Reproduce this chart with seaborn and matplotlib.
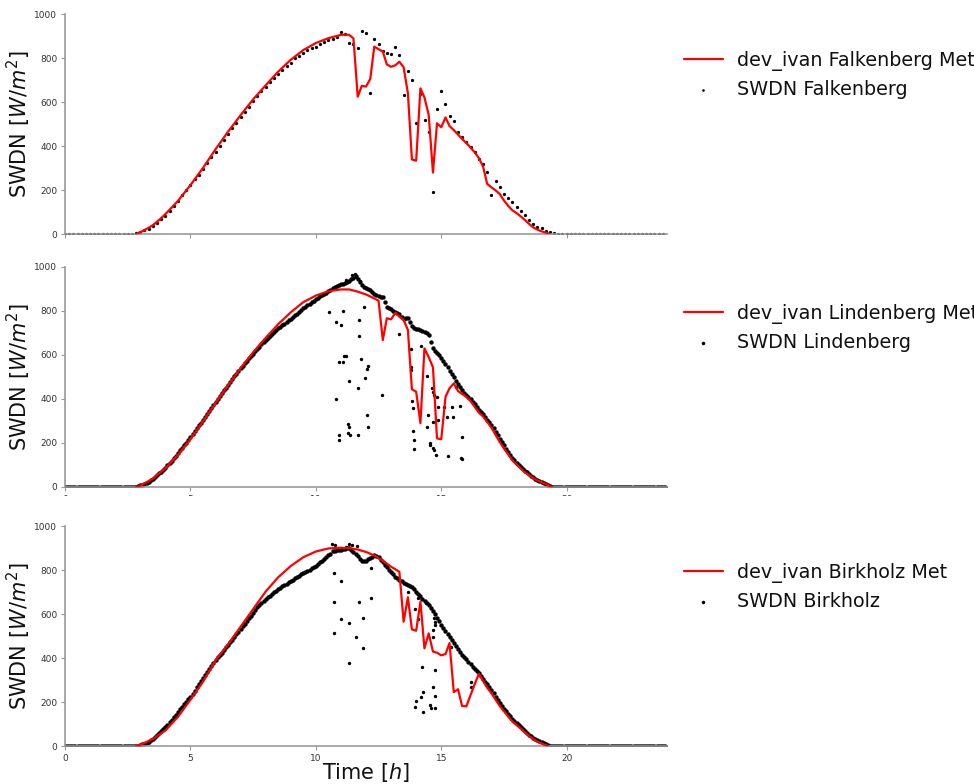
import numpy as np
import matplotlib
matplotlib.use("Agg")
import matplotlib.pyplot as plt
import seaborn as sns
from matplotlib.patches import Rectangle

sns.set_style("ticks")
plt.rcParams["font.family"] = ["DejaVu Sans"]
plt.rcParams["text.color"] = "#111111"
plt.rcParams["axes.labelcolor"] = "#111111"

# ---------------- data ----------------
# time grids [h]
t10 = np.arange(144) / 6.0      # 10-minute observations (Falkenberg)
t5 = np.arange(288) / 12.0      # 5-minute observations (Lindenberg, Birkholz)

# Falkenberg observations, 10-min values, one row per hour
fb_obs = [
    0, 0, 0, 0, 0, 0,
    0, 0, 0, 0, 0, 0,
    0, 0, 0, 0, 0, 3,
    10, 16, 22, 36, 51, 66,
    82, 103, 126, 152, 177, 200,
    224, 250, 270, 294, 321, 348,
    374, 401, 428, 455, 480, 506,
    533, 555, 578, 604, 627, 648,
    668, 690, 710, 728, 746, 762,
    777, 798, 811, 825, 836, 845,
    852, 862, 871, 880, 885, 897,
    917, 909, 867, 862, 847, 924,
    915, 640, 886, 864, 830, 821,
    818, 848, 815, 632, 741, 700,
    503, 636, 518, 462, 192, 570,
    651, 589, 538, 515, 465, 442,
    418, 397, 371, 341, 318, 283,
    177, 242, 215, 182, 162, 147,
    124, 106, 86, 64, 45, 33,
    26, 14, 8, 4, 0, 0,
    0, 0, 0, 0, 0, 0,
    0, 0, 0, 0, 0, 0,
    0, 0, 0, 0, 0, 0,
    0, 0, 0, 0, 0, 0,
]

fb_model_t = [2.83, 3.0, 3.17, 3.33, 3.5, 3.67, 3.83, 4.0, 4.5, 5.0, 5.5, 6.0, 6.5,
              7.0, 7.5, 8.0, 8.5, 9.0, 9.5, 10.0, 10.5, 10.83, 11.0, 11.17,
              11.33, 11.5, 11.67, 11.83, 12.0, 12.17, 12.33, 12.5, 12.67, 12.83,
              13.0, 13.17, 13.33, 13.5, 13.67, 13.83, 14.0, 14.17, 14.33, 14.5,
              14.67, 14.83, 15.0, 15.17, 15.33, 15.5, 15.67, 15.83, 16.0, 16.17,
              16.33, 16.5, 16.67, 16.83, 17.0, 17.17, 17.33, 17.5, 17.67, 17.83,
              18.0, 18.17, 18.33, 18.5, 18.67, 18.83, 19.0, 19.17, 19.33]
fb_model = [0, 8, 18, 28, 40, 56, 72, 90, 150, 222, 300, 385, 465,
            540, 612, 676, 738, 792, 836, 868, 890, 900, 905, 906,
            905, 889, 624, 673, 670, 705, 852, 840, 829, 771,
            760, 767, 783, 758, 640, 339, 333, 662, 621, 541,
            279, 503, 485, 530, 491, 472, 452, 432, 414, 392,
            372, 345, 306, 228, 212, 198, 182, 152, 128, 108,
            95, 80, 64, 46, 30, 20, 12, 6, 0]

# Lindenberg observations, 5-min values from 02:30 to 19:30 (zero at night)
lb_obs_day = [
    0, 0, 0, 0, 1, 3,
    8, 11, 15, 19, 24, 31, 38, 46, 54, 62, 70, 79,
    88, 98, 108, 119, 130, 142, 154, 166, 178, 190, 202, 215,
    228, 241, 254, 267, 280, 293, 306, 320, 333, 346, 360, 374,
    388, 401, 414, 427, 440, 452, 465, 478, 490, 503, 515, 528,
    540, 551, 562, 574, 585, 596, 606, 617, 628, 638, 648, 658,
    668, 677, 686, 695, 704, 712, 721, 728, 736, 743, 750, 758,
    765, 772, 780, 788, 796, 804, 812, 819, 826, 833, 840, 847,
    853, 860, 866, 872, 878, 884, 890, 897, 904, 909, 914, 918,
    922, 925, 928, 932, 935, 945, 950, 958, 945, 930, 918, 910,
    905, 900, 895, 885, 878, 872, 868, 865, 862, 840, 820, 814,
    808, 800, 795, 790, 785, 772, 762, 770, 768, 750, 730, 725,
    720, 716, 712, 708, 705, 700, 690, 660, 630, 620, 608, 598,
    588, 574, 560, 544, 528, 513, 498, 483, 468, 454, 440, 429,
    418, 408, 398, 387, 376, 364, 352, 341, 330, 318, 306, 294,
    282, 267, 252, 236, 220, 205, 190, 175, 160, 146, 132, 121,
    110, 101, 92, 83, 74, 66, 58, 51, 44, 38, 32, 27,
    22, 17, 12, 8, 4, 2, 0,
]
lb_cloud_t = [10.51, 11.07, 10.81, 11.0, 11.71, 11.71, 11.91, 11.11, 11.2, 10.94,
              11.07, 11.82, 12.07, 12.02, 11.95, 11.34, 11.68, 10.82, 12.65, 12.02,
              11.27, 11.31, 12.08, 10.94, 10.94, 11.27, 11.35, 11.68, 13.31, 13.8,
              13.8, 13.8, 13.84, 13.87, 13.88, 13.93, 13.9, 14.44, 14.44, 14.47,
              14.55, 14.57, 14.66, 14.68, 14.71, 14.63, 14.68, 14.71, 14.84, 14.87,
              14.87, 14.81, 15.12, 15.24, 15.42, 15.46, 15.49, 15.58, 15.74, 15.84,
              15.28, 15.77, 15.81, 11.45, 11.55, 11.62, 11.4, 11.2, 11.75, 14.2]
lb_cloud_v = [794, 800, 748, 736, 759, 686, 820, 597, 597, 570,
              570, 583, 550, 536, 494, 482, 451, 400, 417, 326,
              286, 274, 271, 236, 212, 244, 238, 238, 695, 626,
              547, 532, 391, 358, 256, 214, 171, 505, 274, 327,
              201, 191, 294, 176, 168, 451, 433, 418, 410, 365,
              305, 145, 365, 320, 365, 320, 501, 456, 370, 226,
              142, 130, 126, 962, 970, 955, 945, 940, 935, 640]

lb_model_t = [2.83, 3.0, 3.5, 4.0, 4.5, 5.0, 5.5, 6.0, 6.5, 7.0, 7.5, 8.0, 8.5,
              9.0, 9.5, 10.0, 10.5, 11.0, 11.33, 11.67, 12.0,
              12.17, 12.33, 12.5, 12.67, 12.83, 13.0, 13.17, 13.33, 13.5, 13.67,
              13.83, 14.0, 14.17, 14.33, 14.5, 14.67, 14.83, 15.0, 15.17, 15.33,
              15.5, 15.67, 15.83, 16.0, 16.17, 16.33, 16.5, 16.67, 16.83, 17.0,
              17.17, 17.33, 17.5, 17.67, 17.83, 18.0, 18.17, 18.33, 18.5, 18.67,
              18.83, 19.0, 19.17, 19.33, 19.42]
lb_model = [0, 6, 38, 85, 145, 218, 298, 382, 462, 540, 612, 678, 740,
            794, 840, 870, 890, 898, 898, 888, 875,
            866, 857, 847, 668, 767, 762, 792, 774, 759, 714,
            444, 433, 290, 630, 590, 544, 221, 217, 410, 449,
            471, 436, 423, 410, 390, 365, 338, 320, 296, 270,
            236, 205, 175, 148, 122, 102, 84, 67, 54, 40,
            30, 22, 14, 4, 0]

# Birkholz observations, 5-min values from 02:30 to 19:30 (zero at night)
bk_obs_day = [
    0, 0, 0, 0, 0, 2,
    4, 7, 10, 15, 20, 26, 32, 40, 48, 57, 66, 76,
    85, 96, 107, 118, 130, 142, 154, 166, 178, 190, 202, 213,
    224, 238, 252, 266, 280, 294, 308, 322, 336, 350, 364, 378,
    392, 403, 414, 425, 436, 448, 460, 472, 484, 496, 508, 520,
    532, 544, 556, 568, 580, 592, 604, 617, 630, 640, 650, 659,
    668, 676, 684, 691, 698, 705, 712, 719, 726, 732, 738, 744,
    750, 756, 762, 768, 775, 780, 785, 790, 795, 802, 808, 812,
    818, 826, 835, 843, 852, 859, 866, 875, 885, 888, 890, 892,
    893, 895, 896, 898, 899, 890, 880, 872, 865, 852, 840, 841,
    842, 848, 853, 860, 866, 862, 858, 846, 835, 823, 812, 800,
    790, 780, 770, 762, 755, 748, 740, 736, 732, 728, 724, 712,
    700, 690, 680, 670, 660, 650, 640, 627, 614, 598, 582, 567,
    552, 538, 525, 510, 496, 481, 466, 453, 440, 427, 415, 405,
    396, 384, 372, 361, 350, 340, 330, 318, 305, 292, 280, 268,
    255, 240, 225, 210, 196, 183, 170, 158, 146, 135, 124, 114,
    105, 96, 88, 79, 70, 61, 52, 45, 38, 32, 26, 21,
    16, 12, 8, 4, 0, 0, 0,
]
bk_cloud_t = [10.71, 11.02, 10.71, 11.72, 12.18, 12.18, 11.0, 11.34, 11.87, 10.71,
              11.6, 11.88, 11.31, 13.67, 13.97, 14.06, 14.41, 14.06, 14.68, 14.68,
              14.77, 14.77, 15.4, 14.24, 14.77, 14.28, 14.68, 14.77, 14.01, 13.97,
              14.28, 14.54, 14.61, 14.74, 14.2, 16.2, 16.2, 14.7, 10.65, 10.75,
              11.31, 11.45, 11.64, 11.2]
bk_cloud_v = [788, 750, 653, 656, 674, 808, 576, 558, 583, 512,
              494, 447, 379, 699, 623, 671, 649, 577, 527, 497,
              550, 565, 451, 361, 344, 244, 267, 229, 206, 179,
              156, 186, 174, 174, 224, 292, 270, 580, 918, 912,
              918, 912, 909, 905]

bk_model_t = [2.83, 3.0, 3.5, 4.0, 4.5, 5.0, 5.5, 6.0, 6.5, 7.0, 7.5, 8.0, 8.5,
              9.0, 9.5, 10.0, 10.5, 11.0, 11.33, 11.67, 12.0, 12.33, 12.67, 13.0,
              13.33, 13.5, 13.67, 13.83, 14.0, 14.17, 14.33, 14.5, 14.67, 14.83,
              15.0, 15.17, 15.33, 15.5, 15.67, 15.83, 16.0, 16.17, 16.33, 16.5,
              16.67, 16.83, 17.0, 17.17, 17.33, 17.5, 17.67, 17.83, 18.0, 18.17,
              18.33, 18.5, 18.67, 18.83, 19.0, 19.17, 19.25]
bk_model = [0, 5, 32, 70, 132, 210, 292, 390, 462, 542, 622, 702, 767,
            818, 858, 884, 898, 901, 899, 893, 882, 866, 842, 815,
            792, 565, 676, 530, 524, 656, 444, 512, 429, 424,
            412, 418, 468, 245, 258, 182, 180, 232, 280, 328,
            295, 265, 240, 210, 182, 158, 134, 112, 95, 79,
            62, 46, 32, 20, 11, 4, 0]

stations = ["Falkenberg", "Lindenberg", "Birkholz"]
yticks = [0, 200, 400, 600, 800, 1000]
xticks = [0, 5, 10, 15, 20]


def full_day(day_vals, start_index=30, n=288):
    out = np.zeros(n)
    out[start_index:start_index + len(day_vals)] = day_vals
    return out


obs_sets = [
    (t10, np.array(fb_obs, float), None, None, 5.5),
    (t5, full_day(lb_obs_day), lb_cloud_t, lb_cloud_v, 10.0),
    (t5, full_day(bk_obs_day), bk_cloud_t, bk_cloud_v, 10.0),
]
model_sets = [(fb_model_t, fb_model), (lb_model_t, lb_model), (bk_model_t, bk_model)]

# ---------------- figure ----------------
W, H = 974, 784
fig = plt.figure(figsize=(W / 100, H / 100), dpi=100)
fig.patch.set_facecolor("white")
ax_rows = [(14, 234), (267, 487), (526, 746)]
axes = [fig.add_axes([65 / W, 1 - b / H, (667 - 65) / W, (b - t) / H]) for t, b in ax_rows]

for i, ax in enumerate(axes):
    st = stations[i]
    ot, ov, ct, cv, s_dense = obs_sets[i]
    sns.scatterplot(x=ot, y=ov, s=s_dense, color="black", linewidth=0,
                    label=f"SWDN {st}", ax=ax, zorder=2)
    if ct is not None:
        sns.scatterplot(x=ct, y=cv, s=6.0, color="black", linewidth=0,
                        legend=False, ax=ax, zorder=2)
    mt, mv = model_sets[i]
    sns.lineplot(x=mt, y=mv, color="red", linewidth=1.6, sort=False,
                 estimator=None, label=f"dev_ivan {st} Met", ax=ax, zorder=3)

    ax.set_xlim(0, 24)
    ax.set_ylim(0, 1000)
    ax.set_xticks(xticks)
    ax.set_yticks(yticks)
    sns.despine(ax=ax)
    for sp in ("left", "bottom"):
        ax.spines[sp].set_color("#999999")
        ax.spines[sp].set_linewidth(1.2)
    ax.tick_params(labelsize=6.5, length=3, width=0.8, color="#999999",
                   labelcolor="#333333", pad=2.5)
    ax.set_ylabel("SWDN [$W/m^2$]", fontsize=15, labelpad=1)
    ax.set_xlabel("")
    handles, labels = ax.get_legend_handles_labels()
    order = [labels.index(f"dev_ivan {st} Met"), labels.index(f"SWDN {st}")]
    ax.legend([handles[k] for k in order], [labels[k] for k in order],
              loc="upper left", bbox_to_anchor=(1.0, 0.91), frameon=False,
              fontsize=13.8, labelspacing=0.45, handlelength=2.0,
              handletextpad=0.75, markerscale=0.8)

axes[0].tick_params(labelbottom=False)
axes[2].set_xlabel("Time [$h$]", fontsize=15, labelpad=-1)

# the middle panel's tick labels are cut off in the reference
fig.add_artist(Rectangle((0, 1 - 522 / H), 0.75, (522 - 496) / H,
                         transform=fig.transFigure, facecolor="white",
                         edgecolor="none", zorder=10))

fig.savefig("out.png", dpi=100)
